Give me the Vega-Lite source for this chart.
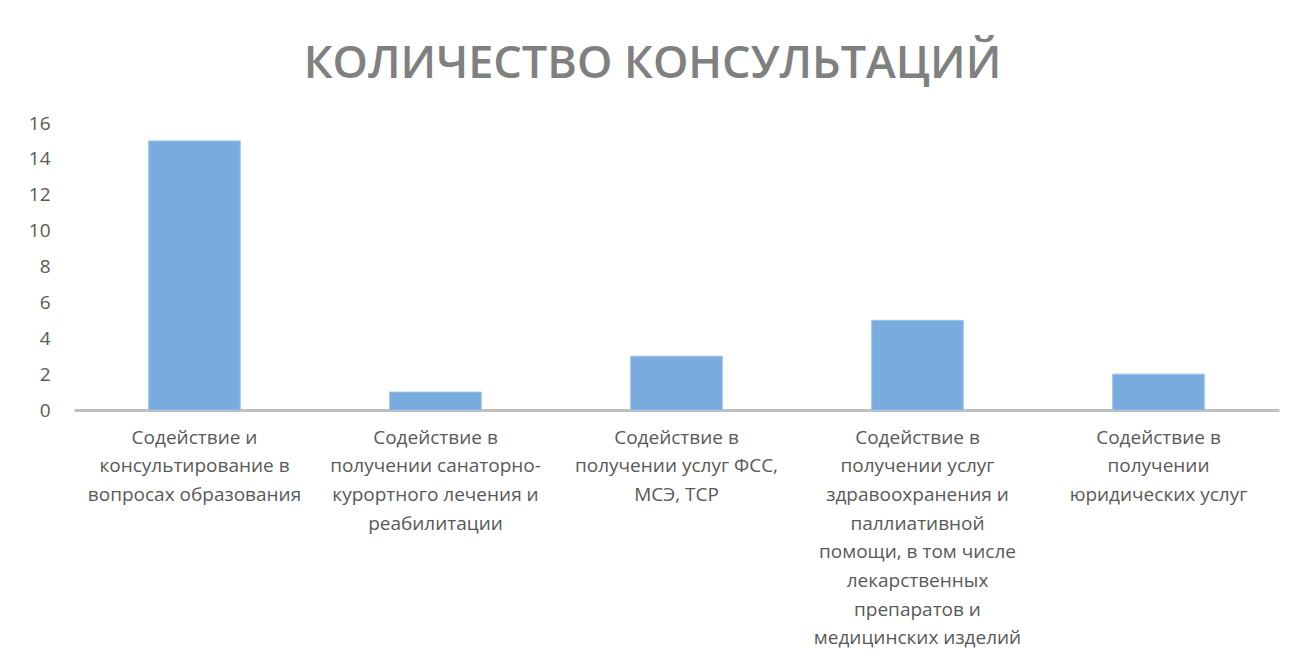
{
  "$schema": "https://vega.github.io/schema/vega-lite/v6.json",
  "width": 1205,
  "height": 287,
  "autosize": {"type": "none"},
  "padding": {"left": 74, "top": 123, "right": 20, "bottom": 260},
  "background": "white",
  "title": {
    "text": "КОЛИЧЕСТВО КОНСУЛЬТАЦИЙ",
    "font": "Open Sans",
    "fontSize": 45,
    "fontWeight": 600,
    "color": "#808080",
    "anchor": "middle",
    "dx": -24,
    "offset": 27
  },
  "data": {
    "values": [
      {"category": "Содействие и|консультирование в|вопросах образования", "value": 15},
      {"category": "Содействие в|получении санаторно-|курортного лечения и|реабилитации", "value": 1},
      {"category": "Содействие в|получении услуг ФСС,|МСЭ, ТСР", "value": 3},
      {"category": "Содействие в|получении услуг|здравоохранения и|паллиативной|помощи, в том числе|лекарственных|препаратов и|медицинских изделий", "value": 5},
      {"category": "Содействие в|получении|юридических услуг", "value": 2}
    ]
  },
  "mark": {"type": "bar", "color": "#7aabde", "stroke": "#9cc3ea", "strokeWidth": 1},
  "encoding": {
    "x": {
      "field": "category",
      "type": "nominal",
      "sort": null,
      "scale": {"paddingInner": 0.62, "paddingOuter": 0.31},
      "axis": {
        "title": null,
        "labelAngle": 0,
        "labelExpr": "split(datum.label, '|')",
        "labelFont": "Open Sans",
        "labelFontSize": 19,
        "labelColor": "#595959",
        "labelLineHeight": 28.7,
        "labelPadding": 18,
        "labelBaseline": "top",
        "ticks": false,
        "domainColor": "#bfbfbf",
        "domainWidth": 3,
        "labelLimit": 400
      }
    },
    "y": {
      "field": "value",
      "type": "quantitative",
      "scale": {"domain": [0, 16]},
      "axis": {
        "title": null,
        "values": [0, 2, 4, 6, 8, 10, 12, 14, 16],
        "grid": false,
        "domain": false,
        "ticks": false,
        "labelFont": "Open Sans",
        "labelFontSize": 19,
        "labelColor": "#595959",
        "labelPadding": 24
      }
    }
  },
  "config": {"view": {"stroke": null}}
}
